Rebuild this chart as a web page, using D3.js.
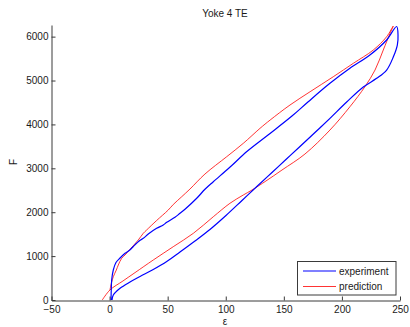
<!DOCTYPE html>
<html>
<head>
<meta charset="utf-8">
<script src="https://cdn.jsdelivr.net/npm/d3@7"></script>
<style>
  html, body { margin: 0; padding: 0; background: #fff; }
  svg { display: block; font-family: "Liberation Sans", Arial, sans-serif; }
</style>
</head>
<body>
<svg id="chart" width="410" height="327"></svg>
<script>
// Measured hysteresis loop: strain ε vs force F (loading up, unloading down)
const experimentStrain = [1.2, 1.5, 1.8, 3.2, 5.5, 9.0, 13.3, 17.4, 20.4, 26.0, 29.0, 33.3, 40.5, 46.2, 49.2, 56.3, 60.6, 64.9, 75.0, 82.1, 89.3, 102.8, 118.7, 136.4, 157.0, 171.0, 189.7, 206.9, 224.1, 238.5, 247.1,
  248.3, 247.7, 244.2, 238.5, 229.9, 218.4, 204.1, 189.7, 176.8, 163.9, 151.8, 139.8, 127.7, 114.0, 100.2, 86.4, 73.5, 60.6, 49.2, 37.6, 26.2, 17.6, 9.0, 3.2, 2.1];
const experimentForce = [0, 273, 456, 683, 854, 957, 1064, 1139, 1219, 1355, 1405, 1503, 1633, 1708, 1770, 1884, 1975, 2066, 2317, 2522, 2695, 3007, 3394, 3759, 4191, 4517, 4936, 5278, 5581, 5923, 6230,
  6036, 5809, 5535, 5239, 5050, 4852, 4510, 4139, 3815, 3497, 3200, 2904, 2608, 2267, 1925, 1606, 1344, 1093, 877, 695, 535, 410, 267, 114, 0];

// Model prediction of the same loop
const predictionStrain = [0.3, 1.6, 3.2, 5.8, 7.5, 10.4, 13.3, 17.4, 24.7, 29.0, 31.9, 40.5, 50.5, 54.8, 62.1, 69.2, 82.1, 100.8, 115.1, 129.5, 138.2, 155.3, 172.6, 192.6, 209.8, 227.0, 238.5, 244.2,
  241.4, 235.6, 228.5, 219.8, 206.9, 189.7, 168.2, 148.4, 134.6, 122.6, 115.1, 103.6, 89.3, 72.1, 54.8, 37.6, 21.9, 11.5, 0.3, -6.3];
const predictionForce = [228, 387, 531, 683, 797, 950, 1025, 1150, 1367, 1519, 1595, 1811, 2050, 2175, 2353, 2528, 2870, 3264, 3569, 3911, 4100, 4442, 4745, 5087, 5392, 5695, 5998, 6241,
  6075, 5695, 5239, 4859, 4403, 3872, 3326, 2961, 2711, 2506, 2392, 2203, 1897, 1519, 1214, 911, 624, 433, 228, 0];

const xTicks = [-50, 0, 50, 100, 150, 200, 250];
const yTicks = [0, 1000, 2000, 3000, 4000, 5000, 6000];

const seriesNames = ["experiment", "prediction"];
const seriesColors = ["#0000ff", "#ff0000"];

const svg = d3.select("#chart");
const axisColor = "#3a3a3a";
const textColor = "#1a1a1a";

const x = d3.scaleLinear().domain([-50, 250]).range([51.5, 400]);
const y = d3.scaleLinear().domain([0, 6265]).range([300, 25]);

svg.append("rect").attr("width", 410).attr("height", 327).attr("fill", "#fff");

// Title
svg.append("text")
  .attr("x", 225).attr("y", 17)
  .attr("text-anchor", "middle")
  .attr("font-size", 10).attr("fill", textColor)
  .text("Yoke 4 TE");

// Curves
const line = d3.line().x(d => x(d[0])).y(d => y(d[1])).curve(d3.curveCatmullRom.alpha(0.5));
const expData = d3.zip(experimentStrain, experimentForce);
const predData = d3.zip(predictionStrain, predictionForce);

svg.append("path").datum(predData)
  .attr("d", line).attr("fill", "none")
  .attr("stroke", seriesColors[1]).attr("stroke-width", 0.8)
  .attr("stroke-linejoin", "round");

svg.append("path").datum(expData)
  .attr("d", line).attr("fill", "none")
  .attr("stroke", seriesColors[0]).attr("stroke-width", 1.2)
  .attr("stroke-linejoin", "round");

// Axes with inward ticks
const fmt = d3.format("d");
const xAxis = d3.axisBottom(x).tickValues(xTicks).tickFormat(fmt).tickSizeInner(-4).tickSizeOuter(0).tickPadding(5);
const yAxis = d3.axisLeft(y).tickValues(yTicks).tickFormat(fmt).tickSizeInner(-4).tickSizeOuter(0).tickPadding(3);

const gx = svg.append("g").attr("transform", "translate(0,300.5)").call(xAxis);
const gy = svg.append("g").attr("transform", "translate(51.5,0)").call(yAxis);

[gx, gy].forEach(g => {
  g.select(".domain").attr("stroke", axisColor);
  g.selectAll(".tick line").attr("stroke", axisColor);
  g.selectAll(".tick text").attr("fill", textColor)
    .attr("font-size", 10)
    .attr("font-family", "'Liberation Sans', Arial, sans-serif");
});

// Axis labels
svg.append("text")
  .attr("transform", "translate(17,162) rotate(-90)")
  .attr("text-anchor", "middle")
  .attr("font-size", 10).attr("fill", textColor)
  .text("F");

svg.append("text")
  .attr("x", 225).attr("y", 325)
  .attr("text-anchor", "middle")
  .attr("font-size", 10).attr("fill", textColor)
  .text("ε");

// Legend
const legend = svg.append("g");
legend.append("rect")
  .attr("x", 297.5).attr("y", 261.5).attr("width", 98.5).attr("height", 33.5)
  .attr("fill", "#fff").attr("stroke", axisColor).attr("stroke-width", 1);

seriesNames.forEach((name, i) => {
  const ly = 271 + i * 15.5;
  legend.append("line")
    .attr("x1", 303).attr("x2", 336).attr("y1", ly).attr("y2", ly)
    .attr("stroke", seriesColors[i]).attr("stroke-width", i === 0 ? 1.2 : 0.8);
  legend.append("text")
    .attr("x", 339).attr("y", ly + 3.5)
    .attr("font-size", 10).attr("fill", textColor)
    .text(name);
});
</script>
</body>
</html>
